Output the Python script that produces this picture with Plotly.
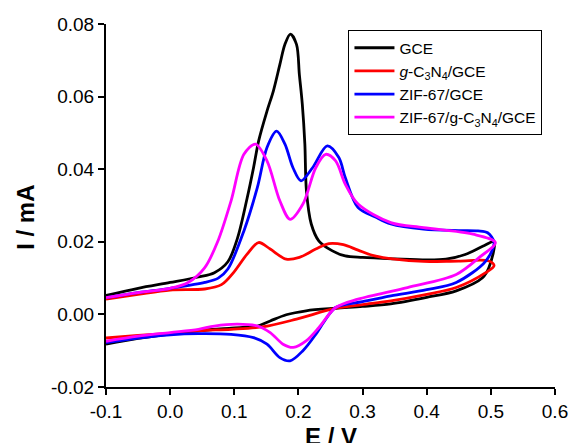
import plotly.graph_objects as go

# GCE (black)
gce_x = [-0.1, -0.05, 0.0, 0.044, 0.069, 0.09, 0.105, 0.12, 0.13, 0.138, 0.151, 0.161, 0.171, 0.179,
         0.1875, 0.197, 0.2015, 0.206, 0.21, 0.2125, 0.22, 0.232, 0.253, 0.273, 0.3, 0.35, 0.4, 0.43,
         0.46, 0.49, 0.505, 0.497, 0.487, 0.446, 0.4, 0.344, 0.3, 0.258, 0.212, 0.181, 0.156, 0.136,
         0.095, 0.044, 0.0, -0.05, -0.1]
gce_y = [0.0052, 0.0072, 0.0088, 0.0103, 0.0115, 0.0145, 0.021, 0.032, 0.0404, 0.0478, 0.056, 0.0616,
         0.0688, 0.0744, 0.0772, 0.0744, 0.066, 0.058, 0.047, 0.034, 0.0249, 0.0202, 0.0175, 0.0161,
         0.0157, 0.0153, 0.0150, 0.0152, 0.0165, 0.0190, 0.0200, 0.0129, 0.0101, 0.0065, 0.0047,
         0.0029, 0.0022, 0.0017, 0.0010, -0.0001, -0.0018, -0.0032, -0.0038, -0.0045, -0.0054,
         -0.0066, -0.0082]

# g-C3N4/GCE (red)
gcn_x = [-0.1, -0.05, 0.0, 0.054, 0.08, 0.1, 0.12, 0.138, 0.156, 0.181, 0.2015, 0.227, 0.2475, 0.27,
         0.293, 0.319, 0.35, 0.395, 0.45, 0.497, 0.505, 0.492, 0.446, 0.4, 0.344, 0.3, 0.258, 0.197,
         0.146, 0.095, 0.044, 0.0, -0.05, -0.1]
gcn_y = [0.0042, 0.0055, 0.0067, 0.0070, 0.0082, 0.0118, 0.0166, 0.0198, 0.0180, 0.0152, 0.0157,
         0.0180, 0.0195, 0.0192, 0.0177, 0.0161, 0.0152, 0.0146, 0.0147, 0.0147, 0.0134, 0.0115,
         0.0074, 0.0055, 0.0037, 0.0027, 0.0017, -0.0013, -0.0034, -0.0041, -0.0045, -0.0052,
         -0.0058, -0.0065]

# ZIF-67/GCE (blue)
zif_x = [-0.1, -0.05, 0.0, 0.054, 0.075, 0.09, 0.115, 0.136, 0.151, 0.166, 0.179, 0.1915, 0.204,
         0.222, 0.245, 0.263, 0.273, 0.293, 0.32, 0.344, 0.395, 0.45, 0.48, 0.495, 0.505, 0.492,
         0.446, 0.4, 0.344, 0.3, 0.258, 0.24, 0.227, 0.207, 0.187, 0.171, 0.151, 0.13, 0.095, 0.044,
         0.0, -0.05, -0.1]
zif_y = [0.0046, 0.0060, 0.0072, 0.0088, 0.0100, 0.0125, 0.0230, 0.0350, 0.0460, 0.0505, 0.0469,
         0.0404, 0.0368, 0.0404, 0.0464, 0.0432, 0.0377, 0.0294, 0.0268, 0.0249, 0.0235, 0.0231,
         0.0230, 0.0225, 0.0198, 0.0147, 0.0088, 0.0068, 0.0051, 0.0035, 0.0019, -0.0020, -0.0055,
         -0.0100, -0.0128, -0.0119, -0.0082, -0.0064, -0.0055, -0.0053, -0.0056, -0.0065, -0.0078]

# ZIF-67/g-C3N4/GCE (magenta)
comp_x = [-0.1, -0.05, 0.0, 0.028, 0.054, 0.074, 0.095, 0.115, 0.133, 0.151, 0.171, 0.187, 0.207,
          0.227, 0.2425, 0.258, 0.273, 0.293, 0.344, 0.395, 0.472, 0.507, 0.482, 0.446, 0.37, 0.293,
          0.258, 0.232, 0.212, 0.192, 0.176, 0.156, 0.136, 0.105, 0.069, 0.044, 0.0, -0.05, -0.1]
comp_y = [0.0046, 0.0060, 0.0072, 0.0088, 0.0129, 0.0200, 0.0313, 0.0441, 0.0469, 0.0423, 0.0313,
          0.0262, 0.0304, 0.0404, 0.0441, 0.0423, 0.0359, 0.0304, 0.0253, 0.0239, 0.0221, 0.0198,
          0.0157, 0.0110, 0.0074, 0.0042, 0.0019, -0.0036, -0.0073, -0.0091, -0.0082, -0.0050,
          -0.0032, -0.0027, -0.0032, -0.0041, -0.0050, -0.0060, -0.0074]

names = ["GCE", "<i>g</i>-C<sub>3</sub>N<sub>4</sub>/GCE", "ZIF-67/GCE",
         "ZIF-67/g-C<sub>3</sub>N<sub>4</sub>/GCE"]
colors = ["#000000", "#FF0000", "#0000FF", "#FF00FF"]
series = [(gce_x, gce_y), (gcn_x, gcn_y), (zif_x, zif_y), (comp_x, comp_y)]

x_ticks = [-0.1, 0.0, 0.1, 0.2, 0.3, 0.4, 0.5, 0.6]
y_ticks = [-0.02, 0.0, 0.02, 0.04, 0.06, 0.08]

fig = go.Figure()
for (xs, ys), nm, c in zip(series, names, colors):
    fig.add_trace(go.Scatter(x=xs, y=ys, mode="lines", name=nm,
                             line=dict(color=c, width=2.8, shape="spline", smoothing=0.9)))

font_family = "Arial, Liberation Sans, sans-serif"
fig.update_layout(
    width=580, height=443,
    margin=dict(l=106, r=16, t=24, b=56),
    paper_bgcolor="white", plot_bgcolor="white",
    font=dict(family=font_family, color="black"),
    showlegend=True,
    legend=dict(x=0.54, y=0.983, xanchor="left", yanchor="top",
                bordercolor="black", borderwidth=1, bgcolor="white",
                font=dict(size=15.5, family=font_family, color="black"),
                tracegroupgap=0, itemwidth=40),
    xaxis=dict(range=[-0.1, 0.6], tickvals=x_ticks, ticktext=[f"{v:.1f}" for v in x_ticks],
               showline=True, linewidth=2, linecolor="black", ticks="outside", ticklen=6,
               tickwidth=2, tickcolor="black", showgrid=False, zeroline=False,
               tickfont=dict(size=19, family=font_family, color="black")),
    yaxis=dict(range=[-0.02, 0.08], tickvals=y_ticks, ticktext=[f"{v:.2f}" for v in y_ticks],
               showline=True, linewidth=2, linecolor="black", ticks="outside", ticklen=6,
               tickwidth=2, tickcolor="black", showgrid=False, zeroline=False,
               tickfont=dict(size=19, family=font_family, color="black")),
    annotations=[
        dict(text="<b>E / V</b>", xref="paper", yref="paper", x=0.5, y=-0.135,
             xanchor="center", yanchor="middle", showarrow=False,
             font=dict(size=24, family=font_family, color="black")),
        dict(text="<b>I / mA</b>", xref="paper", yref="paper", x=-0.181, y=0.468,
             xanchor="center", yanchor="middle", showarrow=False, textangle=-90,
             font=dict(size=24, family=font_family, color="black")),
    ],
)

fig.write_html("out.html")
